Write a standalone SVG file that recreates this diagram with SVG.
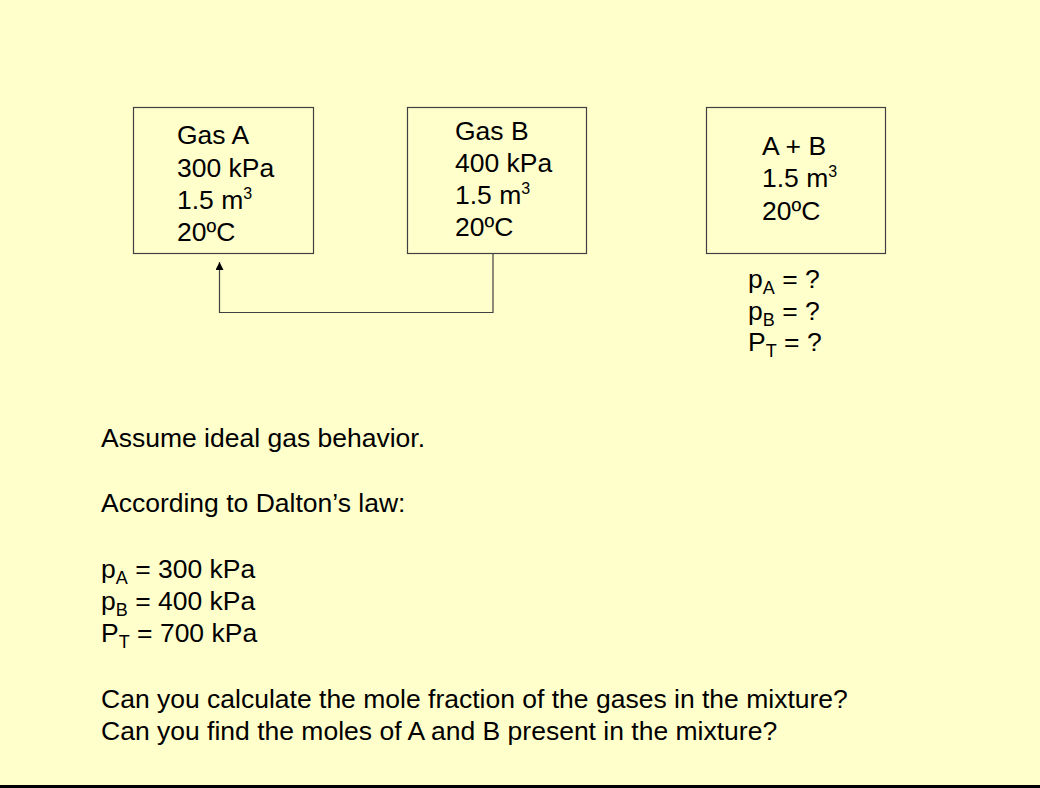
<svg xmlns="http://www.w3.org/2000/svg" width="1040" height="788" viewBox="0 0 1040 788">
<style>
.t{font-family:"Liberation Sans",Arial,sans-serif;font-size:26.5px;fill:#000}
.s{font-size:18px}
.sup{font-size:16px}
.box{fill:none;stroke:#404040;stroke-width:1.2}
.conn{fill:none;stroke:#404040;stroke-width:1.2}
</style>
<defs>
<marker id="arr" markerWidth="10" markerHeight="10" refX="8" refY="4" orient="auto" markerUnits="userSpaceOnUse">
<path d="M0,0 L8,4 L0,8 Z" fill="#000"/>
</marker>
</defs>
<rect x="0" y="0" width="1040" height="788" fill="#FFFFCC"/>
<rect x="0" y="785" width="1040" height="3" fill="#000"/>
<g id="gasA">
<rect class="box" x="133.5" y="107.5" width="180" height="146"/>
<text class="t" x="177" y="144">Gas A</text>
<text class="t" x="177" y="176.5">300 kPa</text>
<text class="t" x="177" y="209">1.5 m<tspan class="sup" dy="-10">3</tspan></text>
<text class="t" x="177" y="241">20ºC</text>
</g>
<g id="gasB">
<rect class="box" x="407.5" y="107.5" width="179" height="146"/>
<text class="t" x="455" y="139.5">Gas B</text>
<text class="t" x="455" y="171.5">400 kPa</text>
<text class="t" x="455" y="204">1.5 m<tspan class="sup" dy="-10">3</tspan></text>
<text class="t" x="455" y="236">20ºC</text>
</g>
<g id="mix">
<rect class="box" x="706.5" y="107.5" width="179" height="146"/>
<text class="t" x="762" y="155">A + B</text>
<text class="t" x="762" y="187">1.5 m<tspan class="sup" dy="-10">3</tspan></text>
<text class="t" x="762" y="219.5">20ºC</text>
</g>
<g id="unknowns">
<text class="t" x="748" y="288">p<tspan class="s" dy="6">A</tspan><tspan dy="-6"> = ?</tspan></text>
<text class="t" x="748" y="319.5">p<tspan class="s" dy="6">B</tspan><tspan dy="-6"> = ?</tspan></text>
<text class="t" x="748" y="351">P<tspan class="s" dy="6">T</tspan><tspan dy="-6"> = ?</tspan></text>
</g>
<g id="connectors">
<path class="conn" d="M493,253.5 V312.5 H219.5 V262" marker-end="url(#arr)"/>
</g>
<g id="notes">
<text class="t" x="101" y="446.7">Assume ideal gas behavior.</text>
<text class="t" x="101" y="511.7">According to Dalton’s law:</text>
<text class="t" x="101" y="577.7">p<tspan class="s" dy="6">A</tspan><tspan dy="-6"> = 300 kPa</tspan></text>
<text class="t" x="101" y="610">p<tspan class="s" dy="6">B</tspan><tspan dy="-6"> = 400 kPa</tspan></text>
<text class="t" x="101" y="642.3">P<tspan class="s" dy="6">T</tspan><tspan dy="-6"> = 700 kPa</tspan></text>
<text class="t" x="101" y="707.7">Can you calculate the mole fraction of the gases in the mixture?</text>
<text class="t" x="101" y="740.3">Can you find the moles of A and B present in the mixture?</text>
</g>
</svg>
